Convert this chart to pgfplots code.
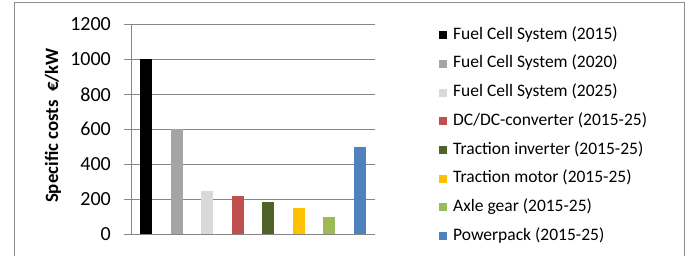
\documentclass[border=0pt]{standalone}
\usepackage{pgfplots}
\pgfplotsset{compat=1.18}
\usepackage{fontspec}
\setmainfont{Carlito}
\definecolor{gridgray}{HTML}{868686}
\definecolor{framegray}{HTML}{8C8C8C}
\definecolor{cA}{HTML}{000000}
\definecolor{cB}{HTML}{A5A5A5}
\definecolor{cC}{HTML}{D9D9D9}
\definecolor{cD}{HTML}{C0504D}
\definecolor{cE}{HTML}{4F6228}
\definecolor{cF}{HTML}{FFC000}
\definecolor{cG}{HTML}{9BBB59}
\definecolor{cH}{HTML}{4F81BD}
\begin{document}
\begin{tikzpicture}[x=1pt,y=1pt]
\useasboundingbox (0,0) rectangle (691,256);
\draw[framegray, line width=0.8pt] (14,-2) -- (14,254) -- (684,254) -- (684,-2);
\begin{axis}[
  at={(131pt,21.7pt)}, anchor=south west,
  scale only axis, width=244pt, height=210pt,
  xmin=-0.5, xmax=7.5, ymin=0, ymax=1200,
  ytick={0,200,...,1200}, xtick=\empty,
  axis x line*=bottom, axis y line*=left,
  axis line style={gridgray, line width=0.75pt},
  ymajorgrids, grid style={gridgray, line width=0.75pt},
  major tick length=7pt, tick align=outside,
  tick style={gridgray, line width=0.75pt},
  /pgf/number format/assume math mode=true,
  /pgf/number format/set thousands separator={},
  yticklabel style={font=\fontsize{20}{20}\selectfont, inner sep=0pt, xshift=-13pt},
  ylabel={\bfseries Specific costs~~€/kW},
  ylabel style={at={(axis description cs:-0.3197,0.518)}, anchor=center, font=\fontsize{18.8}{18.8}\selectfont},
  ybar, bar width=12pt, bar shift=0pt,
  every axis plot/.append style={draw=none, legend image code/.code={\fill[##1] (0pt,-4pt) rectangle (8pt,4pt);}},
  legend style={draw=none, fill=none, at={(1.2623,0.987)}, anchor=north west,
    font=\fontsize{17.5}{17.5}\selectfont, inner sep=0pt, column sep=6pt, row sep=12.7pt,
    nodes={inner sep=0pt, text height=12pt, text depth=4pt}},
  legend cell align=left,
]
\addplot[fill=cA] coordinates {(0,1000)};
\addlegendentry{Fuel Cell System (2015)}
\addplot[fill=cB] coordinates {(1,600)};
\addlegendentry{Fuel Cell System (2020)}
\addplot[fill=cC] coordinates {(2,250)};
\addlegendentry{Fuel Cell System (2025)}
\addplot[fill=cD] coordinates {(3,220)};
\addlegendentry{DC/DC-converter (2015-25)}
\addplot[fill=cE] coordinates {(4,183)};
\addlegendentry{Traction inverter (2015-25)}
\addplot[fill=cF] coordinates {(5,150)};
\addlegendentry{Traction motor (2015-25)}
\addplot[fill=cG] coordinates {(6,100)};
\addlegendentry{Axle gear (2015-25)}
\addplot[fill=cH] coordinates {(7,500)};
\addlegendentry{Powerpack (2015-25)}
\end{axis}
\end{tikzpicture}
\end{document}
